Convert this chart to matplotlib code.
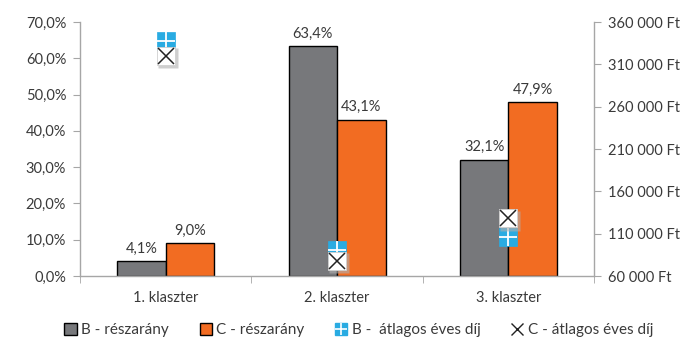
import matplotlib
matplotlib.use("Agg")
import matplotlib.pyplot as plt
import numpy as np
from matplotlib.lines import Line2D
from matplotlib.patches import Patch
from matplotlib.legend_handler import HandlerTuple
from matplotlib.ticker import FuncFormatter, MultipleLocator, FixedLocator
from matplotlib.transforms import ScaledTranslation

plt.rcParams['font.family'] = ['Lato', 'DejaVu Sans']

categories = ["1. klaszter", "2. klaszter", "3. klaszter"]
b_share = [4.1, 63.4, 32.1]
c_share = [9.0, 43.1, 47.9]
b_fee = [338000, 91000, 105500]
c_fee = [320000, 78000, 128000]
fee_ticks = [60000, 110000, 160000, 210000, 260000, 310000, 360000]

GRAY = "#77787b"
ORANGE = "#f26c22"
BLUE = "#29abe2"
TEXT = "#3a3a3a"
AXIS = "#a6a6a6"

fig = plt.figure(figsize=(6.97, 3.5), dpi=100)
ax = fig.add_axes([0.1148, 0.2114, 0.7375, 0.7256])
ax2 = ax.twinx()

x = np.arange(len(categories))
w = 0.283
bars_b = ax.bar(x - w / 2, b_share, w, color=GRAY, edgecolor="black", linewidth=1.0, zorder=2)
bars_c = ax.bar(x + w / 2, c_share, w, color=ORANGE, edgecolor="black", linewidth=1.0, zorder=2)

for bars, vals in ((bars_b, b_share), (bars_c, c_share)):
    for rect, v in zip(bars, vals):
        ax.annotate(f"{v:.1f}%".replace(".", ","),
                    (rect.get_x() + rect.get_width() / 2, v),
                    xytext=(0, 4), textcoords="offset points",
                    ha="center", va="bottom", fontsize=10.5, color=TEXT)

ax.set_xlim(-0.5, 2.5)
ax.set_ylim(0, 70)
ax.yaxis.set_major_locator(MultipleLocator(10))
ax.yaxis.set_major_formatter(FuncFormatter(lambda v, p: f"{v:.1f}%".replace(".", ",")))
ax.set_xticks(x)
ax.set_xticklabels(categories)
ax.set_xticks([-0.5, 0.5, 1.5, 2.5], minor=True)
ax.tick_params(axis="x", which="major", length=0, pad=11, labelsize=10.5, labelcolor=TEXT)
ax.tick_params(axis="x", which="minor", length=5, color=AXIS)
ax.tick_params(axis="y", length=5, color=AXIS, labelsize=10.5, labelcolor=TEXT, pad=5)

ax2.set_ylim(fee_ticks[0], fee_ticks[-1])
ax2.yaxis.set_major_locator(FixedLocator(fee_ticks))
ax2.yaxis.set_major_formatter(FuncFormatter(lambda v, p: f"{int(v):,} Ft".replace(",", " ")))
ax2.tick_params(axis="y", length=5, color=AXIS, labelsize=10.5, labelcolor=TEXT, pad=5)

for a in (ax, ax2):
    for s in a.spines.values():
        s.set_visible(False)
ax.spines["left"].set_visible(True)
ax.spines["bottom"].set_visible(True)
ax2.spines["right"].set_visible(True)
for s in (ax.spines["left"], ax.spines["bottom"], ax2.spines["right"]):
    s.set_color(AXIS)
    s.set_linewidth(1.0)

ms = 12.5
# B – average annual fee: blue square split by a white cross
ax2.plot(x, b_fee, ls="none", marker="s", ms=ms, mfc=BLUE, mec=BLUE, mew=0.5, zorder=3)
ax2.plot(x, b_fee, ls="none", marker="+", ms=ms, mec="white", mew=1.3, zorder=4)
# C – average annual fee: white square with a soft shadow and a black cross
ax2.plot(x, c_fee, ls="none", marker="s", ms=ms + 1.5, mfc="#b0b0b0", mec="none", alpha=0.6,
         transform=ax2.transData + ScaledTranslation(1.5 / 72, -1.5 / 72, fig.dpi_scale_trans),
         zorder=5)
ax2.plot(x, c_fee, ls="none", marker="s", ms=ms, mfc="white", mec="#d0d0d0", mew=0.6, zorder=6)
ax2.plot(x, c_fee, ls="none", marker="x", ms=ms - 1, mec="#222222", mew=1.1, zorder=7)

h_b = Patch(facecolor=GRAY, edgecolor="black", linewidth=1.0)
h_c = Patch(facecolor=ORANGE, edgecolor="black", linewidth=1.0)
h_bf = (Line2D([], [], ls="none", marker="s", ms=9, mfc=BLUE, mec=BLUE),
        Line2D([], [], ls="none", marker="+", ms=9, mec="white", mew=1.2))
h_cf = Line2D([], [], ls="none", marker="x", ms=9, mec="#222222", mew=1.0)

fig.legend([h_b, h_c, h_bf, h_cf],
           ["B - részarány", "C - részarány", "B -  átlagos éves díj", "C - átlagos éves díj"],
           handler_map={tuple: HandlerTuple(ndivide=1)},
           loc="center", bbox_to_anchor=(0.515, 0.057), ncol=4, frameon=False,
           fontsize=11, labelcolor=TEXT, handlelength=0.8, handleheight=0.8,
           handletextpad=0.3, columnspacing=2.0)

fig.savefig("out.png", dpi=100, facecolor="white")
